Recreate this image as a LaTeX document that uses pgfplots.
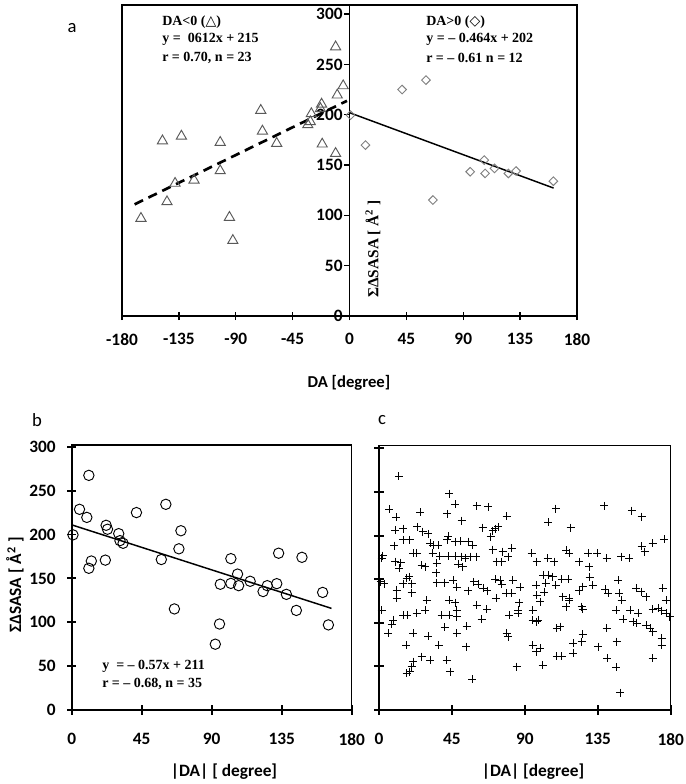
\documentclass[border=0pt]{standalone}
\usepackage{fontspec}
\setmainfont{Carlito}
\newfontfamily\tnr{Liberation Serif}
\newfontfamily\sym{DejaVu Sans}
\usepackage{pgfplots}
\pgfplotsset{compat=1.18}
\newcommand{\tickfont}{\bfseries\fontsize{13}{15}\selectfont}
\newcommand{\annfont}{\tnr\bfseries\fontsize{10.5}{12}\selectfont}
\begin{document}
\begin{tikzpicture}
\path[use as bounding box] (0,0) rectangle (513.75pt,-588pt);
% ---------------- panel a ----------------
\begin{axis}[at={(91.5pt,-237pt)}, anchor=south west, scale only axis,
  width=341.25pt, height=233.25pt,
  xmin=-180, xmax=180, ymin=0, ymax=309,
  xtick={-180,-135,...,180}, xticklabels={-180,-135,-90,-45,0,45,90,135,180},
  ytick=\empty, xtick pos=left, tick align=center, major tick length=6pt,
  axis line style={line width=0.9pt}, xtick style={line width=1pt, black},
  xticklabel style={font=\tickfont, yshift=-6.5pt}, clip=false]
\draw[line width=1.3pt] (axis cs:0,0) -- (axis cs:0,309);
\pgfplotsinvokeforeach{0,50,100,150,200,250,300}{
  \draw[line width=1pt] ([xshift=-4pt]axis cs:0,#1) -- (axis cs:0,#1);
  \node[anchor=east, font=\tickfont, inner sep=1pt] at ([xshift=-4pt]axis cs:0,#1) {#1};
}
\addplot[only marks, mark=triangle, mark size=4.4pt, mark options={draw=black!65, line width=0.7pt}] coordinates {
(-165,97) (-148,174) (-144.4,113.5) (-138,131.8) (-133,178.7) (-123,135)
(-102.3,172.5) (-102.3,144.3) (-95,98) (-92.3,75) (-70.2,204.3) (-68.9,183.7)
(-57.6,171.5) (-33,190) (-31,193) (-30.2,201) (-22.1,210.5) (-23,206)
(-21.6,170.8) (-11,267.4) (-11,161.5) (-9.7,219.5) (-5,228.7)};
\addplot[only marks, mark=square, mark size=2.3pt, mark options={rotate=45, draw=black!50, line width=0.7pt}] coordinates {
(0.8,199.6) (12.6,169.8) (41.6,225) (60.5,234.4) (66,115.2) (95.5,143.3)
(106.6,154.9) (107.3,141.7) (114.7,146.7) (125.7,141.7) (131.8,144) (161.3,134)};
\addplot[black, line width=2pt, dash pattern=on 7pt off 4.5pt] coordinates {(-170,110.96) (-2,213.8)};
\addplot[black, line width=1.1pt] coordinates {(0,202) (161.5,127.1)};
\end{axis}
\node[font=\fontsize{14}{16}\selectfont] at (54pt,-21pt) {a};
\node[font=\bfseries\fontsize{12.5}{14}\selectfont] at (261.75pt,-287.25pt) {DA [degree]};
\node[anchor=west, font=\annfont, inner sep=0pt] at (121.5pt,-16.5pt) {DA<0 ({\sym △})};
\node[anchor=west, font=\annfont, inner sep=0pt] at (121.5pt,-29.25pt) {y =\ \ 0612x + 215};
\node[anchor=west, font=\annfont, inner sep=0pt] at (121.5pt,-43.5pt) {r = 0.70, n = 23};
\node[anchor=west, font=\annfont, inner sep=0pt] at (319.5pt,-16.5pt) {DA>0 ({\sym ◇})};
\node[anchor=west, font=\annfont, inner sep=0pt] at (319.5pt,-29.25pt) {y = – 0.464x + 202};
\node[anchor=west, font=\annfont, inner sep=0pt] at (319.5pt,-43.5pt) {r = – 0.61 n = 12};
\node[rotate=90, anchor=west, inner sep=0pt, font=\tnr\bfseries\fontsize{11.5}{13}\selectfont] at (279.75pt,-223.5pt) {ΣΔSASA [ Å\textsuperscript{2} ]};
% ---------------- panel b ----------------
\begin{axis}[at={(53.8pt,-532.5pt)}, anchor=south west, scale only axis,
  width=210pt, height=198.75pt,
  xmin=0, xmax=180, ymin=0, ymax=302,
  xtick={0,45,90,135,180}, ytick={0,50,...,300},
  xtick pos=left, ytick pos=left, tick align=center, major tick length=7pt,
  axis line style={line width=0.8pt}, tick style={line width=1.4pt, black},
  /pgf/number format/assume math mode=true,
  ticklabel style={font=\tickfont},
  xticklabel style={yshift=-10.5pt}, yticklabel style={xshift=-5pt}, clip=false]
\draw[line width=1.6pt] (rel axis cs:0,1) -- (rel axis cs:0,0) -- (rel axis cs:1,0);
\addplot[only marks, mark=o, mark size=3.9pt, mark options={draw=black, line width=0.7pt}] coordinates {
(165,97) (148,174) (144.4,113.5) (138,131.8) (133,178.7) (123,135)
(102.3,172.5) (102.3,144.3) (95,98) (92.3,75) (70.2,204.3) (68.9,183.7)
(57.6,171.5) (33,190) (31,193) (30.2,201) (22.1,210.5) (23,206)
(21.6,170.8) (11,267.4) (11,161.5) (9.7,219.5) (5,228.7)
(0.8,199.6) (12.6,169.8) (41.6,225) (60.5,234.4) (66,115.2) (95.5,143.3)
(106.6,154.9) (107.3,141.7) (114.7,146.7) (125.7,141.7) (131.8,144) (161.3,134)};
\addplot[black, line width=1.1pt] coordinates {(0,211) (167,115.8)};
\end{axis}
\node[font=\fontsize{14}{16}\selectfont] at (27.75pt,-315pt) {b};
\node[rotate=90, anchor=west, inner sep=0pt, font=\bfseries\fontsize{13}{15}\selectfont] at (11.25pt,-474.75pt) {ΣΔSASA [ Å\textsuperscript{2} ]};
\node[font=\bfseries\fontsize{13}{15}\selectfont] at (168pt,-579pt) {|DA| [ degree]};
\node[anchor=west, font=\annfont, inner sep=0pt] at (76.5pt,-499.5pt) {y\ \ = – 0.57x + 211};
\node[anchor=west, font=\annfont, inner sep=0pt] at (76.5pt,-513pt) {r = – 0.68, n = 35};
% ---------------- panel c ----------------
\begin{axis}[at={(284.25pt,-532.5pt)}, anchor=south west, scale only axis,
  width=218.75pt, height=198.2pt,
  xmin=0, xmax=180, ymin=0, ymax=303,
  xtick={0,45,90,135,180}, ytick={0,50,...,300}, yticklabels={},
  xtick pos=left, ytick pos=left, tick align=center, major tick length=7pt,
  axis line style={line width=0.8pt}, tick style={line width=1.4pt, black},
  /pgf/number format/assume math mode=true,
  ticklabel style={font=\tickfont},
  xticklabel style={yshift=-10.5pt}, clip=false]
\draw[line width=1.8pt] (rel axis cs:0,1) -- (rel axis cs:0,0) -- (rel axis cs:1,0);
\addplot[only marks, mark=+, mark size=3pt, mark options={draw=black, line width=0.7pt}] coordinates {
(12.3,268) (43.4,248) (46.9,236) (42.2,225) (60.3,234) (67.5,233) (6.4,230) (10.5,221)
(25.3,227) (51,217) (78.8,222) (109.2,231) (104.5,215) (118.3,209) (139.1,234) (156,228.5)
(162.1,221.6) (175.9,196) (168.9,191) (162.1,188) (164,181.5) (9.9,206) (15,208) (23.6,210)
(27,204.5) (30.4,202) (42.8,199.5) (64,209) (70.1,205.6) (71.6,208) (73.6,210) (68.9,198.7)
(9.5,188.4) (15,195) (19.1,195) (31.5,191) (33.5,189) (36.6,189) (42.2,195) (46.9,193)
(50,193.7) (55.1,193) (57.8,189) (21.2,180) (23.2,179.6) (33.1,179.6) (37.6,176.5) (42.8,176.5)
(46.9,176.5) (51,175.8) (53.1,173.9) (56.2,175.8) (59.9,175.8) (70.1,184) (76.3,181.5) (81.9,185.3)
(79.8,175.8) (72.6,170) (75.7,170) (94.2,179.6) (97.3,170) (104.1,173.9) (108,170) (115.4,183.4)
(117.5,179.6) (123.6,170) (129.2,179.6) (134.7,179.6) (129.8,164.3) (140.5,173.9) (149.4,175.8) (154.5,173.9)
(1.6,173.9) (2.3,177) (9.9,170) (13.4,169) (12.6,162.4) (26.3,166) (28.4,164.3) (35.6,168)
(35.2,157.4) (49,167.4) (51.6,164.3) (17.1,151) (18.7,153) (20.2,145) (10.9,137.6) (10.9,128)
(15,145) (20.2,134.5) (29.4,126) (35.6,146) (40.7,146) (45.9,149) (47.9,140.6) (1,147)
(3.3,145) (55.1,136.8) (58.6,147) (61.3,144.4) (64.4,139.5) (66.9,136.8) (72.2,128) (71.6,149.8)
(74.7,149) (78.4,133.7) (75.7,144.4) (82.5,149) (87,140.6) (96.9,143.3) (101.4,154.8) (104.5,154.8)
(107.2,152.8) (102.9,145.2) (109.2,143.3) (116.9,149.8) (123.6,136.8) (125.7,141.4) (131.9,143.3) (139.5,138.3)
(141.5,133.7) (147.7,149) (148.3,133.7) (149.8,126) (158.6,139.5) (161.7,135.7) (175.1,139.5) (177.5,126)
(97.3,131.8) (99.4,124.2) (86.6,123) (113.4,130) (117.5,126) (43.4,126) (46.9,123) (48,114.6)
(60.3,120.4) (66.5,115.4) (28.4,114.6) (23.2,110.8) (17.5,108.9) (15,108.9) (8.8,103.2) (7.8,98.2)
(5.8,87.9) (1.6,114.6) (38.7,108.9) (43.4,108.9) (48,107) (54.1,96.3) (63.4,103.9) (40.7,94.8)
(48,87.9) (21.2,87.9) (30.4,84.8) (37,74.5) (16.7,74.5) (53.7,72.6) (26.3,61.1) (31.5,57.3)
(21.2,55.4) (20.2,49.7) (17.1,42) (19.1,43.9) (41.8,57.3) (43.8,43.9) (57.6,35.2) (78.8,87.9)
(79.8,84) (80.4,108.9) (86,110.8) (86,114.6) (85,49.7) (94.8,114.6) (94.8,103.2) (97.3,101.3)
(98.3,103.2) (94.8,74.5) (96.9,66.9) (99.4,70.7) (100.9,51.6) (111.7,95.5) (109.7,93.6) (109.7,61.9)
(112.7,61.9) (119.9,65) (119.9,76.4) (125.1,78.3) (125.7,87.1) (125.1,118.5) (125.7,115.4) (115.4,118.5)
(117.5,128) (135.4,72.6) (140.5,93.6) (140.9,59.2) (146.3,114.6) (146.7,78.3) (146.3,48.9) (148.8,19.9)
(150.8,103.9) (154.9,114.6) (157,101.3) (159,99.4) (160.1,110.8) (164.8,97.4) (167.3,93.6) (168.9,89.8)
(168.9,59.2) (174.4,82.2) (174.4,74.5) (168.9,115.4) (172.4,116.5) (174.4,113.9) (177.1,110.8) (179.5,107)
(177.1,126) (81.9,133.7) (112.7,149.8) (102,135) (130,152) (165,130)};
\end{axis}
\node[font=\fontsize{14}{16}\selectfont] at (286.5pt,-315pt) {c};
\node[font=\bfseries\fontsize{13}{15}\selectfont] at (399.75pt,-579pt) {|DA| [degree]};
\end{tikzpicture}
\end{document}
